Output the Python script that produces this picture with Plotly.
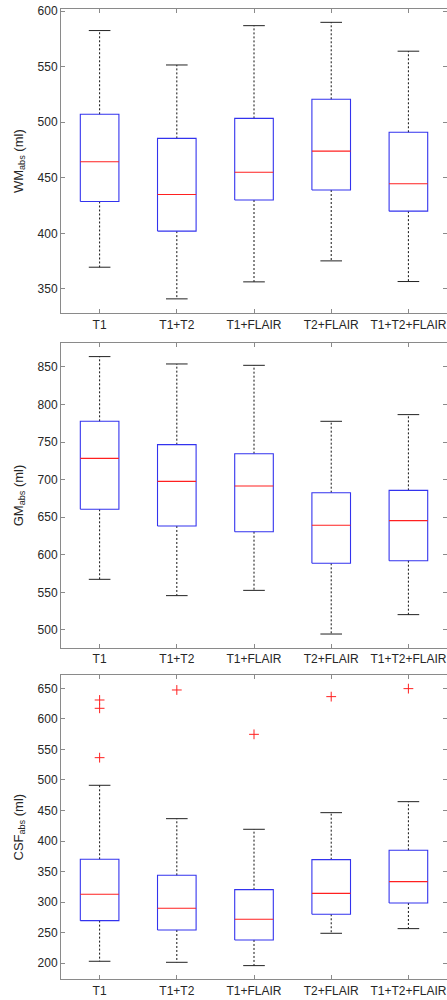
import plotly.graph_objects as go

# Segmentation methods (x categories)
methods = ["T1", "T1+T2", "T1+FLAIR", "T2+FLAIR", "T1+T2+FLAIR"]

# White matter volume (ml): whisker ends, quartiles, median
wm_lower = [369.5, 341.0, 356.3, 375.2, 356.6]
wm_q1 = [428.7, 402.0, 430.0, 439.0, 420.0]
wm_median = [464.5, 435.0, 455.0, 474.0, 444.7]
wm_q3 = [507.2, 485.5, 503.5, 520.7, 491.0]
wm_upper = [582.6, 551.6, 587.0, 590.0, 564.0]
wm_outliers = [[], [], [], [], []]

# Grey matter volume (ml)
gm_lower = [567.4, 545.7, 552.7, 494.6, 520.4]
gm_q1 = [660.6, 638.4, 630.8, 588.7, 592.2]
gm_median = [728.4, 697.8, 691.6, 639.3, 645.5]
gm_q3 = [777.7, 746.6, 734.6, 682.7, 685.8]
gm_upper = [863.8, 854.0, 852.2, 777.7, 786.6]
gm_outliers = [[], [], [], [], []]

# Cerebrospinal fluid volume (ml)
csf_lower = [203.3, 201.6, 196.2, 249.1, 256.7]
csf_q1 = [269.8, 254.5, 238.2, 280.2, 298.7]
csf_median = [312.9, 290.0, 272.0, 314.5, 333.6]
csf_q3 = [370.2, 344.0, 320.5, 369.6, 385.0]
csf_upper = [491.3, 436.7, 419.3, 446.5, 464.5]
csf_outliers = [[630.9, 617.3, 536.5], [647.3], [574.7], [636.4], [649.5]]

# y tick values per panel
wm_ticks = [350, 400, 450, 500, 550, 600]
gm_ticks = [500, 550, 600, 650, 700, 750, 800, 850]
csf_ticks = [200, 250, 300, 350, 400, 450, 500, 550, 600, 650]

panels = [
    dict(name="WM", lower=wm_lower, q1=wm_q1, med=wm_median, q3=wm_q3, upper=wm_upper,
         out=wm_outliers, ticks=wm_ticks, yrange=[328, 602], domain=[0.6867, 0.991]),
    dict(name="GM", lower=gm_lower, q1=gm_q1, med=gm_median, q3=gm_q3, upper=gm_upper,
         out=gm_outliers, ticks=gm_ticks, yrange=[476.4, 881.5], domain=[0.3523, 0.6567]),
    dict(name="CSF", lower=csf_lower, q1=csf_q1, med=csf_median, q3=csf_q3, upper=csf_upper,
         out=csf_outliers, ticks=csf_ticks, yrange=[173.8, 671.8], domain=[0.0207, 0.325]),
]

BOX_HALF = 0.25
CAP_HALF = 0.14
AXIS_GREY = "#8a8a8a"
TEXT = "#262626"
FONT = "Liberation Sans, Arial, sans-serif"

fig = go.Figure()
layout = dict(
    width=447, height=1000,
    margin=dict(l=0, r=0, t=0, b=0),
    paper_bgcolor="white", plot_bgcolor="white",
    showlegend=False,
    font=dict(family=FONT, size=12, color=TEXT),
)

positions = list(range(1, len(methods) + 1))

for i, p in enumerate(panels):
    ax = "" if i == 0 else str(i + 1)
    xref, yref = "x" + ax, "y" + ax

    box_x, box_y = [], []
    med_x, med_y = [], []
    wh_x, wh_y = [], []
    cap_x, cap_y = [], []
    out_x, out_y = [], []
    for k, xc in enumerate(positions):
        l, r = xc - BOX_HALF, xc + BOX_HALF
        box_x += [l, r, r, l, l, None]
        box_y += [p["q1"][k], p["q1"][k], p["q3"][k], p["q3"][k], p["q1"][k], None]
        med_x += [l, r, None]
        med_y += [p["med"][k], p["med"][k], None]
        wh_x += [xc, xc, None, xc, xc, None]
        wh_y += [p["q3"][k], p["upper"][k], None, p["q1"][k], p["lower"][k], None]
        for v in (p["upper"][k], p["lower"][k]):
            cap_x += [xc - CAP_HALF, xc + CAP_HALF, None]
            cap_y += [v, v, None]
        for v in p["out"][k]:
            out_x.append(xc)
            out_y.append(v)

    common = dict(xaxis=xref, yaxis=yref, hoverinfo="skip")
    fig.add_trace(go.Scatter(x=wh_x, y=wh_y, mode="lines",
                             line=dict(color="#111111", width=1, dash="2px,2px"), **common))
    fig.add_trace(go.Scatter(x=cap_x, y=cap_y, mode="lines",
                             line=dict(color="#222222", width=1), **common))
    fig.add_trace(go.Scatter(x=box_x, y=box_y, mode="lines",
                             line=dict(color="#3333ee", width=1.1), **common))
    fig.add_trace(go.Scatter(x=med_x, y=med_y, mode="lines",
                             line=dict(color="#ff2020", width=1.1), **common))
    if out_x:
        fig.add_trace(go.Scatter(x=out_x, y=out_y, mode="markers",
                                 marker=dict(symbol="cross-thin", size=7,
                                             line=dict(color="#ff2020", width=1)),
                                 **common))

    layout["xaxis" + ax] = dict(
        domain=[0.1365, 1.0], range=[0.5, 5.5], anchor=yref,
        tickmode="array", tickvals=positions, ticktext=methods,
        ticks="inside", ticklen=4, tickcolor=AXIS_GREY, tickwidth=1,
        showline=True, linecolor=AXIS_GREY, linewidth=1, mirror="ticks",
        showgrid=False, zeroline=False,
        tickfont=dict(family=FONT, size=12, color=TEXT),
    )
    layout["yaxis" + ax] = dict(
        domain=p["domain"], range=p["yrange"], anchor=xref,
        tickmode="array", tickvals=p["ticks"],
        ticks="inside", ticklen=4, tickcolor=AXIS_GREY, tickwidth=1,
        showline=True, linecolor=AXIS_GREY, linewidth=1, mirror="ticks",
        showgrid=False, zeroline=False,
        tickfont=dict(family=FONT, size=12, color=TEXT),
        title=dict(text=p["name"] + "<sub>abs</sub> (ml)", standoff=11,
                   font=dict(family=FONT, size=13, color=TEXT)),
        automargin=False,
    )

fig.update_layout(**layout)
fig.write_html("out.html")
